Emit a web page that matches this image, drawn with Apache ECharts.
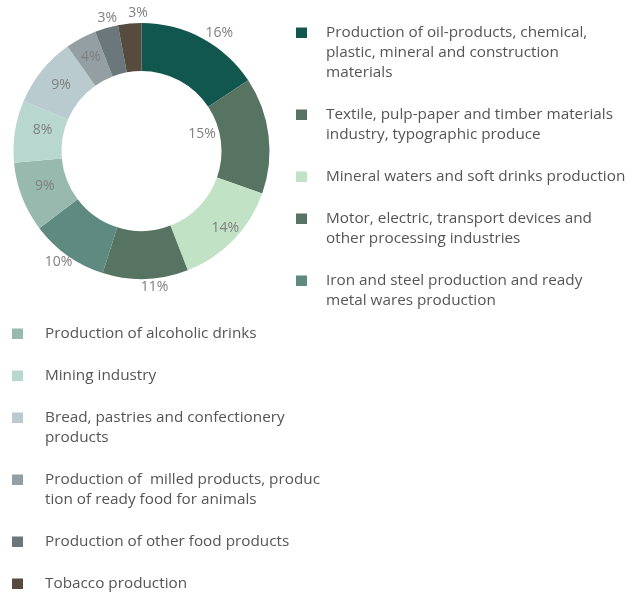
<!DOCTYPE html>
<html><head><meta charset="utf-8">
<script src="https://cdn.jsdelivr.net/npm/echarts@6/dist/echarts.min.js"></script>
<style>html,body{margin:0;padding:0;background:#fff}#c{width:638px;height:595px}</style>
</head><body><div id="c"></div>
<script>
const categories = [
  "Production of oil-products, chemical,\nplastic, mineral and construction\nmaterials",
  "Textile, pulp-paper and timber materials\nindustry, typographic produce",
  "Mineral waters and soft drinks production",
  "Motor, electric, transport devices and\nother processing industries",
  "Iron and steel production and ready\nmetal wares production",
  "Production of alcoholic drinks",
  "Mining industry",
  "Bread, pastries and confectionery\nproducts",
  "Production of  milled products, produc\ntion of ready food for animals",
  "Production of other food products",
  "Tobacco production"
];
const values = [16, 15, 14, 11, 10, 9, 8, 9, 4, 3, 3];

// styling
const colors = ['#11574e', '#567461', '#c2e2c6', '#567461', '#5e8a80', '#97b9ae', '#b8d8cf', '#bacbd0', '#939fa3', '#6c777b', '#574a3f'];
const labelRadius = [138, 60, 111, 134, 136, 100, 98, 101, 104, 134, 135];
const labelAngleShift = [5.4, -9.3, -1.4, -3.8, 1.4, 1.2, 3.1, 0.6, 0, 1.5, 3.9];
const rightGroup = [0, 1, 2, 3, 4];
const leftGroup = [5, 6, 7, 8, 9, 10];
const CX = 141.5, CY = 151, R0 = 80, R1 = 128;
const LH = 20, GAP = 22;

const total = values.reduce((a, b) => a + b, 0);
function midAngle(i) {
  let cum = 0;
  for (let k = 0; k < i; k++) cum += values[k];
  return (cum + values[i] / 2) / total * 2 * Math.PI;
}

const legends = [];
function addGroup(idxs, left, firstCenter, textGap) {
  let y = firstCenter;
  idxs.forEach(i => {
    const n = categories[i].split('\n').length;
    const h = n * LH;
    legends.push({
      data: [categories[i]],
      left: left,
      top: y - LH / 2,
      orient: 'vertical',
      padding: 0,
      itemGap: 0,
      itemWidth: 11,
      itemHeight: h,
      icon: 'path://M0,0L0.001,0M11,' + h + 'L10.999,' + h + 'M0,4.5L11,4.5L11,15L0,15Z',
      selectedMode: false,
      textStyle: {
        fontFamily: 'Open Sans',
        fontSize: 15.3,
        color: '#555555',
        lineHeight: LH,
        padding: [0, 0, 0, textGap]
      }
    });
    y += n * LH + GAP;
  });
}
addGroup(rightGroup, 296, 33, 14);
addGroup(leftGroup, 12, 334, 17);

const chart = echarts.init(document.getElementById('c'), null, {renderer: 'canvas'});
chart.setOption({
  animation: false,
  color: colors,
  legend: legends,
  series: [{
    type: 'pie',
    center: [CX, CY],
    radius: [R0, R1],
    startAngle: 90,
    clockwise: true,
    avoidLabelOverlap: false,
    silent: true,
    itemStyle: {borderWidth: 0},
    label: {
      show: true,
      position: 'inside',
      formatter: p => p.value + '%',
      fontFamily: 'Open Sans',
      fontSize: 14,
      color: '#7f7f7f'
    },
    labelLine: {show: false},
    labelLayout: function (p) {
      const i = p.dataIndex;
      const a0 = midAngle(i);
      const r0 = (R0 + R1) / 2;
      const a1 = a0 + labelAngleShift[i] * Math.PI / 180;
      const r1 = labelRadius[i];
      return {
        dx: r1 * Math.sin(a1) - r0 * Math.sin(a0),
        dy: -r1 * Math.cos(a1) + r0 * Math.cos(a0)
      };
    },
    data: categories.map((c, i) => ({name: c, value: values[i]}))
  }]
});
</script></body></html>
